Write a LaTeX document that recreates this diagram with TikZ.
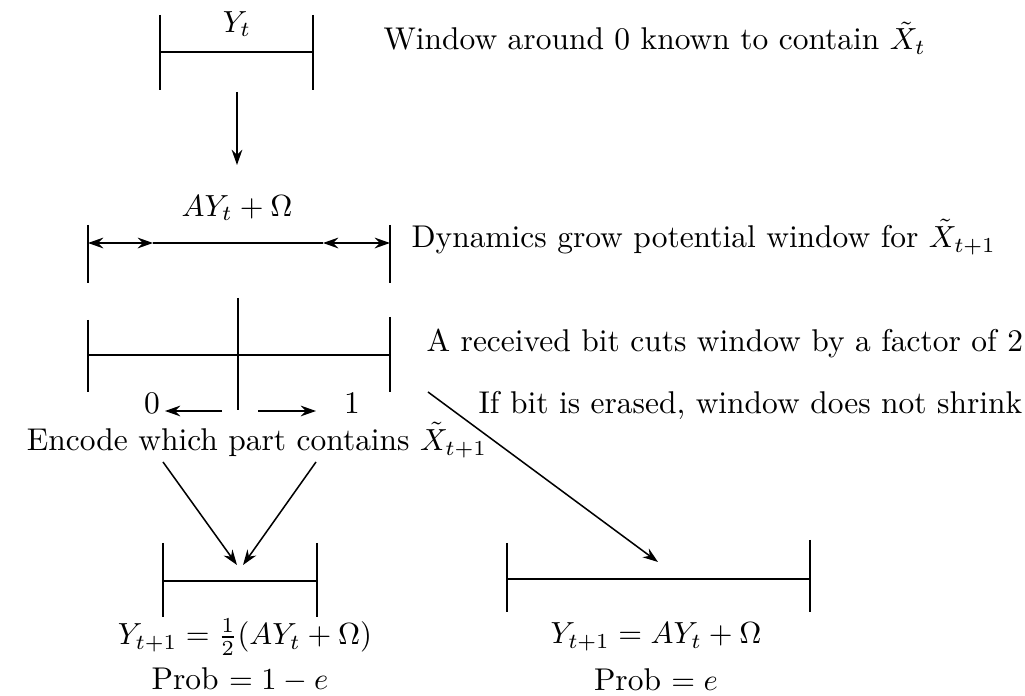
\documentclass[tikz,border=0pt]{standalone}
\usetikzlibrary{arrows.meta, positioning}

\begin{document}
\begin{tikzpicture}[
            x=0.0115cm, y=-0.0115cm,
            >={Stealth[length=5pt,width=3.5pt]},
            every node/.style={font=\fontsize{10.3pt}{13pt}\selectfont},
            % Estilo das barras dos intervalos
            bar/.style={
                draw=black,
                line width=0.6pt
            },
            % Estilo das setas
            flow/.style={
                draw=black,
                ->,
                line width=0.5pt
            },
            % Estilo dos textos explicativos
            note/.style={
                anchor=west,
                inner sep=0pt
            }
        ]
            \useasboundingbox (0,0) rectangle (1025,696);

            % Janela inicial
            \draw [bar] (160,15) -- (160,90) (313,15) -- (313,90) (160,52) -- (313,52);
            \node (yt) at (237,24) {$Y_t$};
            \node [note] (known) at (383,38) {Window around 0 known to contain $\tilde X_t$};
            \coordinate (yt-out) at (237,92);
            \coordinate (grow-in) at (237,165);
            \draw [flow] (yt-out) -- (grow-in);

            % Janela aumentada pela dinamica
            \draw [bar] (88,225) -- (88,283) (390,225) -- (390,283);
            \draw [bar, <->] (88,243) -- (153,243);
            \draw [bar] (153,243) -- (323,243);
            \draw [bar, <->] (323,243) -- (390,243);
            \node (grow) at (237,208) {$AY_t + \Omega$};
            \node [note] (dyn) at (411,237) {Dynamics grow potential window for $\tilde X_{t+1}$};

            % Janela dividida ao meio
            \draw [bar] (88,320) -- (88,392) (390,317) -- (390,392) (238,298) -- (238,410);
            \draw [bar] (88,355) -- (390,355);
            \node (zero) at (152,403) {0};
            \node (one) at (352,403) {1};
            \draw [flow] (222,411) -- (165,411);
            \draw [flow] (258,411) -- (316,411);
            \node [note] (cut) at (426,343) {A received bit cuts window by a factor of 2};
            \node [note] (erase) at (478,405) {If bit is erased, window does not shrink};
            \node (enc) at (257,440) {Encode which part contains $\tilde X_{t+1}$};

            % Setas para os dois casos
            \coordinate (cut-r) at (428,392);
            \coordinate (erase-in) at (658,562);
            \coordinate (enc-l) at (163,462);
            \coordinate (enc-r) at (316,462);
            \coordinate (half-l) at (237,565);
            \coordinate (half-r) at (243,565);
            \draw [flow] (enc-l) -- (half-l);
            \draw [flow] (enc-r) -- (half-r);
            \draw [flow] (cut-r) -- (erase-in);

            % Janela recebida
            \draw [bar] (163,543) -- (163,617) (317,543) -- (317,617) (163,581) -- (317,581);
            \node (half) at (245,637) {$Y_{t+1} = \frac{1}{2}(AY_t + \Omega)$};
            \node (p1) at (240,680) {Prob $= 1 - e$};

            % Janela apagada
            \draw [bar] (507,543) -- (507,612) (810,540) -- (810,612) (507,579) -- (810,579);
            \node (full) at (656,637) {$Y_{t+1} = AY_t + \Omega$};
            \node (p2) at (656,680) {Prob $= e$};

        \end{tikzpicture}
\end{document}
